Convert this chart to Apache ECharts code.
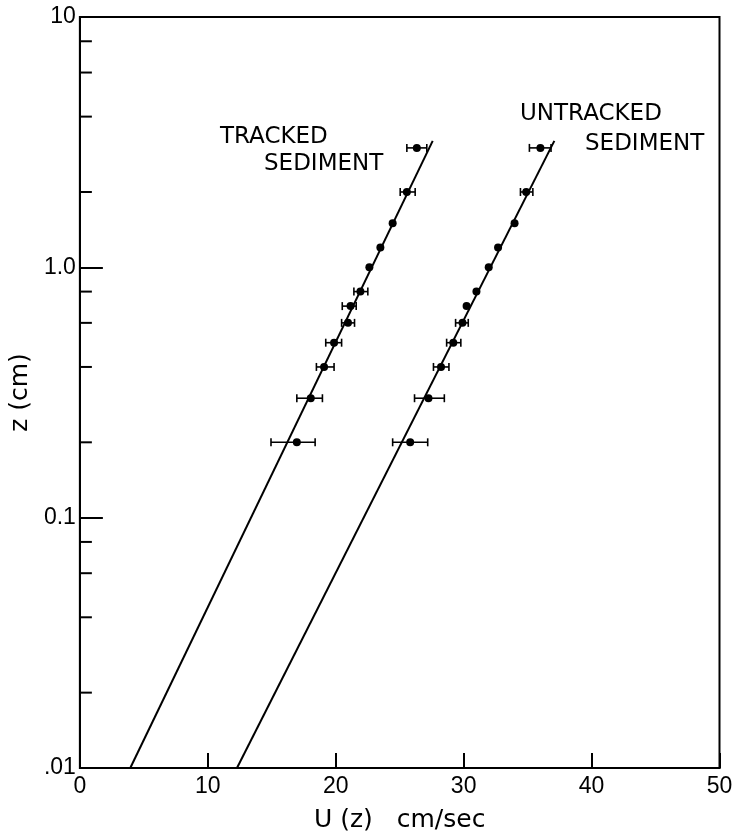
<!DOCTYPE html>
<html>
<head>
<meta charset="utf-8">
<script src="https://cdn.jsdelivr.net/npm/echarts@6/dist/echarts.min.js"></script>
<style>
html,body{margin:0;padding:0;background:#fff;}
#chart{width:737px;height:838px;}
</style>
</head>
<body>
<div id="chart"></div>
<script>
// ---- data ----
const zLevels = [0.2, 0.3, 0.4, 0.5, 0.6, 0.7, 0.8, 1.0, 1.2, 1.5, 2.0, 3.0];
const trackedU = [16.96, 18.05, 19.09, 19.87, 20.96, 21.16, 21.93, 22.63, 23.49, 24.45, 25.56, 26.34];
const trackedLow = [14.94, 16.96, 18.49, 19.22, 20.46, 20.51, 21.42, null, null, null, 25.04, 25.56];
const trackedHigh = [18.39, 18.96, 19.87, 20.46, 21.47, 21.60, 22.51, null, null, null, 26.21, 27.12];
const untrackedU = [25.82, 27.25, 28.23, 29.19, 29.91, 30.23, 31.00, 31.96, 32.69, 33.98, 34.89, 36.00];
const untrackedLow = [24.45, 26.16, 27.64, 28.67, 29.37, null, null, null, null, null, 34.44, 35.14];
const untrackedHigh = [27.19, 28.49, 28.85, 29.78, 30.36, null, null, null, null, null, 35.41, 36.83];
const fitZ = [0.01, 3.2];
const trackedFitU = [3.94, 27.58];
const untrackedFitU = [12.28, 37.09];
const xTicks = [0, 10, 20, 30, 40, 50];
const yTickValues = [0.01, 0.1, 1, 10];
const yTickLabels = ['.01', '0.1', '1.0', '10'];
const yMinorTicks = [0.02, 0.04, 0.06, 0.08, 0.2, 0.4, 0.6, 0.8, 2, 4, 6, 8];
const labelTracked = ['TRACKED', 'SEDIMENT'];
const labelUntracked = ['UNTRACKED', 'SEDIMENT'];
const xName = 'U (z)   cm/sec';
const yName = 'z (cm)';

// ---- build series data ----
const pts = (us) => zLevels.map((z, i) => [us[i], z]);
const bars = (lo, hi) => zLevels.map((z, i) => lo[i] == null ? null : [lo[i], hi[i], z]).filter(d => d);
const fit = (us) => fitZ.map((z, i) => [us[i], z]);

function renderErrorBar(params, api) {
  const lo = api.coord([api.value(0), api.value(2)]);
  const hi = api.coord([api.value(1), api.value(2)]);
  const cap = 4;
  const st = { stroke: '#000', lineWidth: 1.6 };
  return {
    type: 'group',
    children: [
      { type: 'line', shape: { x1: lo[0], y1: lo[1], x2: hi[0], y2: hi[1] }, style: st },
      { type: 'line', shape: { x1: lo[0], y1: lo[1] - cap, x2: lo[0], y2: lo[1] + cap }, style: st },
      { type: 'line', shape: { x1: hi[0], y1: hi[1] - cap, x2: hi[0], y2: hi[1] + cap }, style: st }
    ]
  };
}

function renderMinorTick(params, api) {
  const p = api.coord([api.value(0), api.value(1)]);
  return {
    type: 'line',
    shape: { x1: p[0], y1: p[1], x2: p[0] + 12, y2: p[1] },
    style: { stroke: '#000', lineWidth: 2 }
  };
}

const FONT = 'DejaVu Sans';
const TICKFONT = 'Liberation Sans';

const chart = echarts.init(document.getElementById('chart'), null, { renderer: 'canvas' });
chart.setOption({
  backgroundColor: '#fff',
  animation: false,
  grid: {
    left: 76, top: 17, right: 17.5, bottom: 67,
    show: true, borderColor: '#000', borderWidth: 2, backgroundColor: 'transparent'
  },
  xAxis: {
    type: 'value', min: xTicks[0], max: xTicks[xTicks.length - 1], interval: 10,
    axisLine: { show: true, onZero: false, lineStyle: { color: '#000', width: 2 } },
    axisTick: { show: true, inside: true, length: 15, lineStyle: { color: '#000', width: 2 } },
    axisLabel: { color: '#000', fontSize: 23, fontFamily: TICKFONT, margin: 7 },
    splitLine: { show: false },
    name: xName, nameLocation: 'middle', nameGap: 40,
    nameTextStyle: { color: '#000', fontSize: 25, fontFamily: FONT }
  },
  yAxis: {
    type: 'log', logBase: 10, min: yTickValues[0], max: yTickValues[yTickValues.length - 1],
    axisLine: { show: true, onZero: false, lineStyle: { color: '#000', width: 2 } },
    axisTick: { show: true, inside: true, length: 23, lineStyle: { color: '#000', width: 2 } },
    axisLabel: {
      color: '#000', fontSize: 23, fontFamily: TICKFONT, margin: 4,
      formatter: (v) => {
        const i = yTickValues.findIndex(t => Math.abs(Math.log10(t) - Math.log10(v)) < 1e-6);
        return i >= 0 ? yTickLabels[i] : '';
      }
    },
    splitLine: { show: false },
    name: yName, nameLocation: 'middle', nameGap: 42, nameRotate: 90,
    nameTextStyle: { color: '#000', fontSize: 25, fontFamily: FONT }
  },
  series: [
    { type: 'custom', name: 'minorTicks', renderItem: renderMinorTick, clip: false, silent: true,
      data: yMinorTicks.map(v => [0, v]), encode: { x: 0, y: 1 } },
    { type: 'line', name: 'trackedFit', data: fit(trackedFitU), showSymbol: false, symbol: 'none',
      lineStyle: { color: '#000', width: 2 }, silent: true },
    { type: 'line', name: 'untrackedFit', data: fit(untrackedFitU), showSymbol: false, symbol: 'none',
      lineStyle: { color: '#000', width: 2 }, silent: true },
    { type: 'custom', name: 'trackedErr', renderItem: renderErrorBar, data: bars(trackedLow, trackedHigh),
      encode: { x: [0, 1], y: 2 }, silent: true },
    { type: 'custom', name: 'untrackedErr', renderItem: renderErrorBar, data: bars(untrackedLow, untrackedHigh),
      encode: { x: [0, 1], y: 2 }, silent: true },
    { type: 'scatter', name: 'tracked', data: pts(trackedU), symbol: 'circle', symbolSize: 8,
      itemStyle: { color: '#000', opacity: 1 } },
    { type: 'scatter', name: 'untracked', data: pts(untrackedU), symbol: 'circle', symbolSize: 8,
      itemStyle: { color: '#000', opacity: 1 } }
  ],
  graphic: [
    { type: 'text', left: 220, top: 126, style: { text: labelTracked[0], fill: '#000', font: '23px "DejaVu Sans"' } },
    { type: 'text', left: 264, top: 153, style: { text: labelTracked[1], fill: '#000', font: '23px "DejaVu Sans"' } },
    { type: 'text', left: 520, top: 103, style: { text: labelUntracked[0], fill: '#000', font: '23px "DejaVu Sans"' } },
    { type: 'text', left: 585, top: 133, style: { text: labelUntracked[1], fill: '#000', font: '23px "DejaVu Sans"' } }
  ]
});
</script>
</body>
</html>
